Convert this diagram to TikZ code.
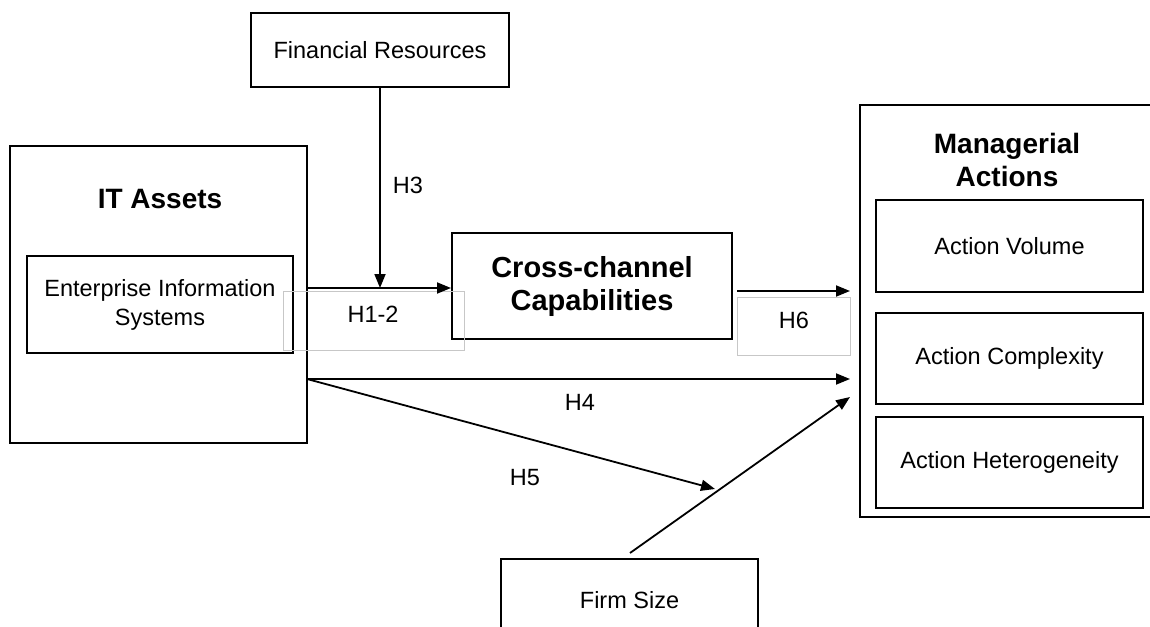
\documentclass[tikz,border=0pt]{standalone}
\usepackage{fontspec}
\setmainfont{Liberation Sans}
\usetikzlibrary{arrows.meta,calc}
\begin{document}
\begin{tikzpicture}[x=1pt,y=-1pt,
  box/.style={draw=black,line width=2pt,inner sep=0pt,align=center,
    font=\fontsize{23.5}{29}\selectfont},
  titletext/.style={inner sep=0pt,align=center,font=\fontsize{28}{33}\selectfont\bfseries},
  lbl/.style={inner sep=0pt,font=\fontsize{23.5}{26}\selectfont},
  greybox/.style={draw=black!22,line width=0.8pt,inner sep=0pt},
  arr/.style={draw=black,line width=1.8pt,-{Triangle[length=14pt,width=11pt]}}]
\useasboundingbox (0,0) rectangle (1150,626);
\fill[white] (0,0) rectangle (1150,626);

% boxes
\node[box,minimum width=258pt,minimum height=74pt] (fin) at (380,50) {Financial Resources};
\node[box,minimum width=297pt,minimum height=297pt] (ita) at (158.5,294.5) {};
\node[titletext] (itat) at (160,199) {IT Assets};
\node[box,minimum width=266pt,minimum height=97pt] (eis) at (160,304.5) {Enterprise Information\\Systems};
\node[box,minimum width=280pt,minimum height=106pt,font=\fontsize{29}{33}\selectfont\bfseries] (ccc) at (592,286) {Cross-channel\\Capabilities};
\node[box,minimum width=295pt,minimum height=412pt] (man) at (1007.5,311) {};
\node[titletext] (mant) at (1007,160) {Managerial\\Actions};
\node[box,minimum width=267pt,minimum height=92pt] (av) at (1009.5,246) {Action Volume};
\node[box,minimum width=267pt,minimum height=91pt] (ac) at (1009.5,358.5) {Action Complexity};
\node[box,minimum width=267pt,minimum height=91pt] (ah) at (1009.5,462.5) {Action Heterogeneity};
\node[box,minimum width=257pt,minimum height=82pt] (fs) at (629.5,600) {Firm Size};

% grey label boxes
\node[greybox,minimum width=181pt,minimum height=59pt] (g12) at (373.5,320.5) {};
\node[lbl] (l12) at (373,314) {H1-2};
\node[greybox,minimum width=113pt,minimum height=58pt] (g6) at (793.5,326) {};
\node[lbl] (l6) at (794,320) {H6};

% coordinates for arrow tips and starts
\coordinate (h12) at (0,288);
\coordinate (h6s) at (737,291);
\coordinate (h6e) at (850,291);
\coordinate (h4s) at (307,379);
\coordinate (h4e) at (850,379);
\coordinate (h5e) at (715,489);
\coordinate (fse) at (850,397);
\coordinate (fss) at (630,553);

% connectors
\draw[arr] (fin.south) -- (fin.south |- h12);
\draw[arr] (ita.east |- h12) -- (ccc.west |- h12);
\draw[arr] (h6s) -- (h6e);
\draw[arr] (h4s) -- (h4e);
\draw[arr] (h4s) -- (h5e);
\draw[arr] (fss) -- (fse);

% labels
\node[lbl] (l3) at (408,185) {H3};
\node[lbl] (l4) at (580,402) {H4};
\node[lbl] (l5) at (525,478) {H5};
\end{tikzpicture}
\end{document}
